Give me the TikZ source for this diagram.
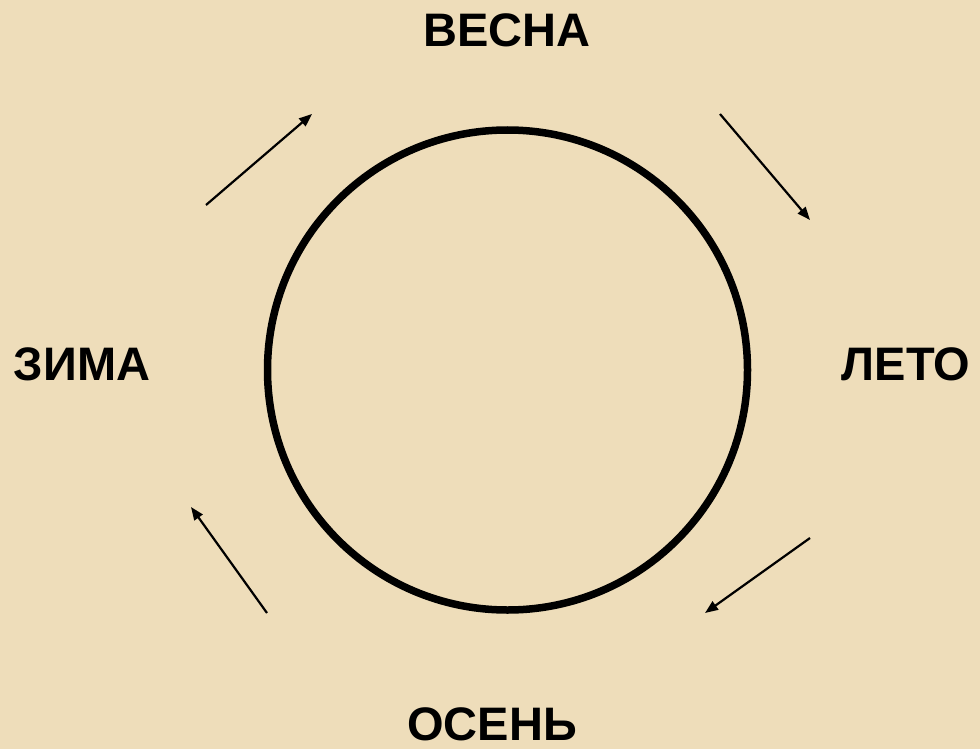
\documentclass[tikz,border=0pt]{standalone}
\usepackage{fontspec}
\setmainfont{Liberation Sans}
\usetikzlibrary{arrows.meta}
\definecolor{parch}{RGB}{238,221,186}
\tikzset{
  season/.style={font=\bfseries\fontsize{47}{47}\selectfont, anchor=base, inner sep=0pt, text=black},
  cycle/.style={line width=2.2pt, -{Triangle[length=13pt,width=10pt]}},
  ring/.style={circle, draw=black, line width=7.5pt, minimum size=480pt, inner sep=0pt}
}
\begin{document}
\begin{tikzpicture}[x=1pt,y=-1pt]
\fill[parch] (0,0) rectangle (980,749);
\useasboundingbox (0,0) rectangle (980,749);
\node[ring] (c) at (507.5,370) {};
\node[season] (spring) at (507,47) {ВЕСНА};
\node[season] (summer) at (906,380) {ЛЕТО};
\node[season] (autumn) at (492,740) {ОСЕНЬ};
\node[season] (winter) at (82,380) {ЗИМА};
\coordinate (a1s) at (206,205); \coordinate (a1e) at (312,114);
\coordinate (a2s) at (720,114); \coordinate (a2e) at (810,220);
\coordinate (a3s) at (810,538); \coordinate (a3e) at (705,613);
\coordinate (a4s) at (267,613); \coordinate (a4e) at (191,507);
\draw[cycle] (a1s) -- (a1e);
\draw[cycle] (a2s) -- (a2e);
\draw[cycle] (a3s) -- (a3e);
\draw[cycle] (a4s) -- (a4e);
\end{tikzpicture}
\end{document}
